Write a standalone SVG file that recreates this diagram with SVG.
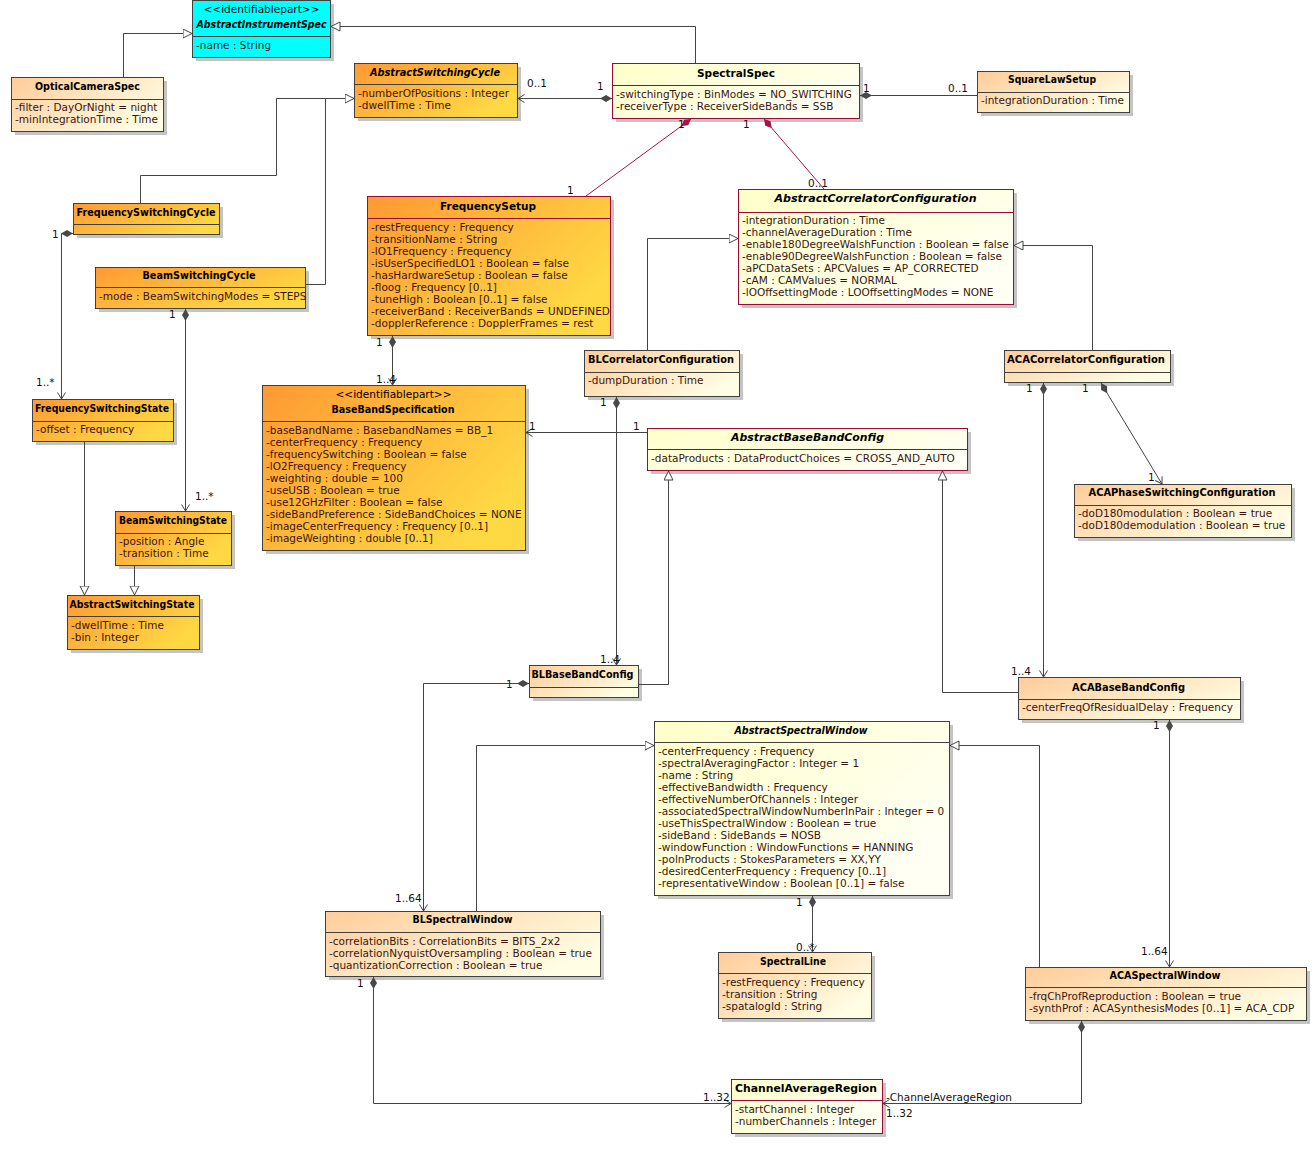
<svg xmlns="http://www.w3.org/2000/svg" width="1316" height="1153" viewBox="0 0 1316 1153">
<defs>
<linearGradient id="gD" x1="0" y1="0" x2="1" y2="0.6"><stop offset="0" stop-color="#FF9933"/><stop offset="1" stop-color="#FFD944"/></linearGradient>
<linearGradient id="gL" x1="0" y1="0" x2="1" y2="0.6"><stop offset="0" stop-color="#FFCC99"/><stop offset="1" stop-color="#FFFDE4"/></linearGradient>
<linearGradient id="gY" x1="0" y1="0" x2="1" y2="0.6"><stop offset="0" stop-color="#FFFFC8"/><stop offset="1" stop-color="#FFFFF4"/></linearGradient>
<marker id="gen" markerUnits="userSpaceOnUse" markerWidth="11" markerHeight="11" refX="9.5" refY="5" orient="auto"><path d="M0.5,0.5 L9.5,5 L0.5,9.5 Z" fill="#fff" stroke="#444" stroke-width="1"/></marker>
<marker id="open" markerUnits="userSpaceOnUse" markerWidth="9" markerHeight="10" refX="7" refY="4.5" orient="auto"><path d="M0.5,0.5 L7,4.5 L0.5,8.5" fill="none" stroke="#444" stroke-width="1"/></marker>
<marker id="dia" markerUnits="userSpaceOnUse" markerWidth="13" markerHeight="8" refX="0" refY="3.5" orient="auto"><path d="M0,3.5 L6,0 L12,3.5 L6,7 Z" fill="#484848"/></marker>
<marker id="diaR" markerUnits="userSpaceOnUse" markerWidth="13" markerHeight="8" refX="0" refY="3.5" orient="auto"><path d="M0,3.5 L6,0 L12,3.5 L6,7 Z" fill="#A31545"/></marker>
<style>
text{font-family:"DejaVu Sans","Liberation Sans",sans-serif;font-size:10.5px}
.sh{fill:#C4C4C4}
.r{stroke:#404040;stroke-width:1}
.rr{stroke:#9C0A36;stroke-width:1}
.dv{stroke:#404040;stroke-width:1}
.dvr{stroke:#9C0A36;stroke-width:1}
.n{font-weight:bold;text-anchor:middle;fill:#000}
.ni{font-weight:bold;font-style:italic;text-anchor:middle;fill:#000}
.st{text-anchor:middle;fill:#000}
.a{fill:#3A1610}
.l{fill:#111}
.c{fill:none;stroke:#444;stroke-width:1}
.cr{fill:none;stroke:#A31545;stroke-width:1}
</style>
</defs>
<rect width="1316" height="1153" fill="#fff"/>

<g id="AbstractInstrumentSpec">
<rect class="sh" x="196" y="4" width="138" height="57"/>
<rect class="r" x="192.5" y="0.5" width="138" height="57" fill="#00FFFF"/>
<line class="dv" x1="192.5" y1="36.5" x2="330.5" y2="36.5"/>
<text class="st" x="261.5" y="13" textLength="116" lengthAdjust="spacingAndGlyphs">&lt;&lt;identifiablepart&gt;&gt;</text>
<text class="ni" x="261.5" y="28" textLength="130" lengthAdjust="spacingAndGlyphs">AbstractInstrumentSpec</text>
<text class="a" x="196" y="49">-name : String</text>
</g>

<g id="OpticalCameraSpec">
<rect class="sh" x="15" y="81" width="152" height="54"/>
<rect class="r" x="11.5" y="77.5" width="152" height="54" fill="url(#gL)"/>
<line class="dv" x1="11.5" y1="99.5" x2="163.5" y2="99.5"/>
<text class="n" x="87.5" y="90" textLength="105" lengthAdjust="spacingAndGlyphs">OpticalCameraSpec</text>
<text class="a" x="15" y="111">-filter : DayOrNight = night</text>
<text class="a" x="15" y="123">-minIntegrationTime : Time</text>
</g>

<g id="AbstractSwitchingCycle">
<rect class="sh" x="358" y="67" width="163" height="54"/>
<rect class="r" x="354.5" y="63.5" width="163" height="54" fill="url(#gD)"/>
<line class="dv" x1="354.5" y1="84.5" x2="517.5" y2="84.5"/>
<text class="ni" x="435" y="76" textLength="130" lengthAdjust="spacingAndGlyphs">AbstractSwitchingCycle</text>
<text class="a" x="358" y="97">-numberOfPositions : Integer</text>
<text class="a" x="358" y="109">-dwellTime : Time</text>
</g>

<g id="SpectralSpec">
<rect class="sh" x="616" y="67" width="247" height="55"/>
<rect class="rr" x="612.5" y="63.5" width="247" height="55" fill="url(#gY)"/>
<line class="dvr" x1="612.5" y1="85.5" x2="859.5" y2="85.5"/>
<text class="n" x="736" y="77" textLength="78" lengthAdjust="spacingAndGlyphs">SpectralSpec</text>
<text class="a" x="616" y="98">-switchingType : BinModes = NO_SWITCHING</text>
<text class="a" x="616" y="110">-receiverType : ReceiverSideBands = SSB</text>
</g>

<g id="SquareLawSetup">
<rect class="sh" x="981" y="75" width="152" height="41"/>
<rect class="r" x="977.5" y="71.5" width="152" height="41" fill="url(#gL)"/>
<line class="dv" x1="977.5" y1="92.5" x2="1129.5" y2="92.5"/>
<text class="n" x="1052" y="83" textLength="88" lengthAdjust="spacingAndGlyphs">SquareLawSetup</text>
<text class="a" x="981" y="104">-integrationDuration : Time</text>
</g>

<g id="FrequencySetup">
<rect class="sh" x="371" y="200" width="243" height="139"/>
<rect class="rr" x="367.5" y="196.5" width="243" height="139" fill="url(#gD)"/>
<line class="dvr" x1="367.5" y1="218.5" x2="610.5" y2="218.5"/>
<text class="n" x="488" y="210" textLength="96" lengthAdjust="spacingAndGlyphs">FrequencySetup</text>
<text class="a" x="371" y="231">-restFrequency : Frequency</text>
<text class="a" x="371" y="243">-transitionName : String</text>
<text class="a" x="371" y="255">-lO1Frequency : Frequency</text>
<text class="a" x="371" y="267">-isUserSpecifiedLO1 : Boolean = false</text>
<text class="a" x="371" y="279">-hasHardwareSetup : Boolean = false</text>
<text class="a" x="371" y="291">-floog : Frequency [0..1]</text>
<text class="a" x="371" y="303">-tuneHigh : Boolean [0..1] = false</text>
<text class="a" x="371" y="315">-receiverBand : ReceiverBands = UNDEFINED</text>
<text class="a" x="371" y="327">-dopplerReference : DopplerFrames = rest</text>
</g>

<g id="AbstractCorrelatorConfiguration">
<rect class="sh" x="742" y="193" width="275" height="115"/>
<rect class="rr" x="738.5" y="189.5" width="275" height="115" fill="url(#gY)"/>
<line class="dvr" x1="738.5" y1="212.5" x2="1013.5" y2="212.5"/>
<text class="ni" x="875.5" y="202" textLength="202" lengthAdjust="spacingAndGlyphs">AbstractCorrelatorConfiguration</text>
<text class="a" x="742" y="224">-integrationDuration : Time</text>
<text class="a" x="742" y="236">-channelAverageDuration : Time</text>
<text class="a" x="742" y="248">-enable180DegreeWalshFunction : Boolean = false</text>
<text class="a" x="742" y="260">-enable90DegreeWalshFunction : Boolean = false</text>
<text class="a" x="742" y="272">-aPCDataSets : APCValues = AP_CORRECTED</text>
<text class="a" x="742" y="284">-cAM : CAMValues = NORMAL</text>
<text class="a" x="742" y="296">-lOOffsettingMode : LOOffsettingModes = NONE</text>
</g>

<g id="FrequencySwitchingCycle">
<rect class="sh" x="77" y="207" width="146" height="31"/>
<rect class="r" x="73.5" y="203.5" width="146" height="31" fill="url(#gD)"/>
<line class="dv" x1="73.5" y1="224.5" x2="219.5" y2="224.5"/>
<text class="n" x="146" y="216" textLength="139" lengthAdjust="spacingAndGlyphs">FrequencySwitchingCycle</text>
</g>

<g id="BeamSwitchingCycle">
<rect class="sh" x="99" y="271" width="210" height="41"/>
<rect class="r" x="95.5" y="267.5" width="210" height="41" fill="url(#gD)"/>
<line class="dv" x1="95.5" y1="287.5" x2="305.5" y2="287.5"/>
<text class="n" x="199" y="279" textLength="113" lengthAdjust="spacingAndGlyphs">BeamSwitchingCycle</text>
<text class="a" x="99" y="300">-mode : BeamSwitchingModes = STEPS</text>
</g>

<g id="FrequencySwitchingState">
<rect class="sh" x="36" y="403" width="141" height="42"/>
<rect class="r" x="32.5" y="399.5" width="141" height="42" fill="url(#gD)"/>
<line class="dv" x1="32.5" y1="421.5" x2="173.5" y2="421.5"/>
<text class="n" x="102" y="412" textLength="134" lengthAdjust="spacingAndGlyphs">FrequencySwitchingState</text>
<text class="a" x="36" y="433">-offset : Frequency</text>
</g>

<g id="BeamSwitchingState">
<rect class="sh" x="119" y="515" width="116" height="54"/>
<rect class="r" x="115.5" y="511.5" width="116" height="54" fill="url(#gD)"/>
<line class="dv" x1="115.5" y1="533.5" x2="231.5" y2="533.5"/>
<text class="n" x="173" y="524" textLength="108" lengthAdjust="spacingAndGlyphs">BeamSwitchingState</text>
<text class="a" x="119" y="545">-position : Angle</text>
<text class="a" x="119" y="557">-transition : Time</text>
</g>

<g id="AbstractSwitchingState">
<rect class="sh" x="71" y="599" width="132" height="54"/>
<rect class="r" x="67.5" y="595.5" width="132" height="54" fill="url(#gD)"/>
<line class="dv" x1="67.5" y1="616.5" x2="199.5" y2="616.5"/>
<text class="n" x="132" y="608" textLength="125" lengthAdjust="spacingAndGlyphs">AbstractSwitchingState</text>
<text class="a" x="71" y="629">-dwellTime : Time</text>
<text class="a" x="71" y="641">-bin : Integer</text>
</g>

<g id="BaseBandSpecification">
<rect class="sh" x="266" y="389" width="263" height="165"/>
<rect class="r" x="262.5" y="385.5" width="263" height="165" fill="url(#gD)"/>
<line class="dv" x1="262.5" y1="421.5" x2="525.5" y2="421.5"/>
<text class="st" x="393.5" y="398" textLength="116" lengthAdjust="spacingAndGlyphs">&lt;&lt;identifiablepart&gt;&gt;</text>
<text class="n" x="393" y="413" textLength="123" lengthAdjust="spacingAndGlyphs">BaseBandSpecification</text>
<text class="a" x="266" y="434">-baseBandName : BasebandNames = BB_1</text>
<text class="a" x="266" y="446">-centerFrequency : Frequency</text>
<text class="a" x="266" y="458">-frequencySwitching : Boolean = false</text>
<text class="a" x="266" y="470">-lO2Frequency : Frequency</text>
<text class="a" x="266" y="482">-weighting : double = 100</text>
<text class="a" x="266" y="494">-useUSB : Boolean = true</text>
<text class="a" x="266" y="506">-use12GHzFilter : Boolean = false</text>
<text class="a" x="266" y="518">-sideBandPreference : SideBandChoices = NONE</text>
<text class="a" x="266" y="530">-imageCenterFrequency : Frequency [0..1]</text>
<text class="a" x="266" y="542">-imageWeighting : double [0..1]</text>
</g>

<g id="BLCorrelatorConfiguration">
<rect class="sh" x="588" y="354" width="155" height="46"/>
<rect class="r" x="584.5" y="350.5" width="155" height="46" fill="url(#gL)"/>
<line class="dv" x1="584.5" y1="372.5" x2="739.5" y2="372.5"/>
<text class="n" x="661" y="363" textLength="146" lengthAdjust="spacingAndGlyphs">BLCorrelatorConfiguration</text>
<text class="a" x="588" y="384">-dumpDuration : Time</text>
</g>

<g id="AbstractBaseBandConfig">
<rect class="sh" x="651" y="432" width="320" height="42"/>
<rect class="rr" x="647.5" y="428.5" width="320" height="42" fill="url(#gY)"/>
<line class="dvr" x1="647.5" y1="449.5" x2="967.5" y2="449.5"/>
<text class="ni" x="807.5" y="441" textLength="153" lengthAdjust="spacingAndGlyphs">AbstractBaseBandConfig</text>
<text class="a" x="651" y="462">-dataProducts : DataProductChoices = CROSS_AND_AUTO</text>
</g>

<g id="ACACorrelatorConfiguration">
<rect class="sh" x="1008" y="354" width="166" height="32"/>
<rect class="r" x="1004.5" y="350.5" width="166" height="32" fill="url(#gL)"/>
<line class="dv" x1="1004.5" y1="372.5" x2="1170.5" y2="372.5"/>
<text class="n" x="1086" y="363" textLength="158" lengthAdjust="spacingAndGlyphs">ACACorrelatorConfiguration</text>
</g>

<g id="ACAPhaseSwitchingConfiguration">
<rect class="sh" x="1078" y="488" width="217" height="53"/>
<rect class="r" x="1074.5" y="484.5" width="217" height="53" fill="url(#gL)"/>
<line class="dv" x1="1074.5" y1="505.5" x2="1291.5" y2="505.5"/>
<text class="n" x="1182" y="496" textLength="187" lengthAdjust="spacingAndGlyphs">ACAPhaseSwitchingConfiguration</text>
<text class="a" x="1078" y="517">-doD180modulation : Boolean = true</text>
<text class="a" x="1078" y="529">-doD180demodulation : Boolean = true</text>
</g>

<g id="BLBaseBandConfig">
<rect class="sh" x="533" y="669" width="109" height="32"/>
<rect class="r" x="529.5" y="665.5" width="109" height="32" fill="url(#gL)"/>
<line class="dv" x1="529.5" y1="687.5" x2="638.5" y2="687.5"/>
<text class="n" x="582.5" y="678" textLength="102" lengthAdjust="spacingAndGlyphs">BLBaseBandConfig</text>
</g>

<g id="ACABaseBandConfig">
<rect class="sh" x="1022" y="681" width="222" height="42"/>
<rect class="r" x="1018.5" y="677.5" width="222" height="42" fill="url(#gL)"/>
<line class="dv" x1="1018.5" y1="699.5" x2="1240.5" y2="699.5"/>
<text class="n" x="1128.5" y="691" textLength="113" lengthAdjust="spacingAndGlyphs">ACABaseBandConfig</text>
<text class="a" x="1022" y="711">-centerFreqOfResidualDelay : Frequency</text>
</g>

<g id="AbstractSpectralWindow">
<rect class="sh" x="658" y="725" width="295" height="174"/>
<rect class="r" x="654.5" y="721.5" width="295" height="174" fill="url(#gY)"/>
<line class="dv" x1="654.5" y1="742.5" x2="949.5" y2="742.5"/>
<text class="ni" x="801" y="734" textLength="133" lengthAdjust="spacingAndGlyphs">AbstractSpectralWindow</text>
<text class="a" x="658" y="755">-centerFrequency : Frequency</text>
<text class="a" x="658" y="767">-spectralAveragingFactor : Integer = 1</text>
<text class="a" x="658" y="779">-name : String</text>
<text class="a" x="658" y="791">-effectiveBandwidth : Frequency</text>
<text class="a" x="658" y="803">-effectiveNumberOfChannels : Integer</text>
<text class="a" x="658" y="815">-associatedSpectralWindowNumberInPair : Integer = 0</text>
<text class="a" x="658" y="827">-useThisSpectralWindow : Boolean = true</text>
<text class="a" x="658" y="839">-sideBand : SideBands = NOSB</text>
<text class="a" x="658" y="851">-windowFunction : WindowFunctions = HANNING</text>
<text class="a" x="658" y="863">-polnProducts : StokesParameters = XX,YY</text>
<text class="a" x="658" y="875">-desiredCenterFrequency : Frequency [0..1]</text>
<text class="a" x="658" y="887">-representativeWindow : Boolean [0..1] = false</text>
</g>

<g id="BLSpectralWindow">
<rect class="sh" x="329" y="915" width="275" height="65"/>
<rect class="r" x="325.5" y="911.5" width="275" height="65" fill="url(#gL)"/>
<line class="dv" x1="325.5" y1="932.5" x2="600.5" y2="932.5"/>
<text class="n" x="462.5" y="923" textLength="100" lengthAdjust="spacingAndGlyphs">BLSpectralWindow</text>
<text class="a" x="329" y="945">-correlationBits : CorrelationBits = BITS_2x2</text>
<text class="a" x="329" y="957">-correlationNyquistOversampling : Boolean = true</text>
<text class="a" x="329" y="969">-quantizationCorrection : Boolean = true</text>
</g>

<g id="SpectralLine">
<rect class="sh" x="722" y="956" width="153" height="66"/>
<rect class="r" x="718.5" y="952.5" width="153" height="66" fill="url(#gL)"/>
<line class="dv" x1="718.5" y1="973.5" x2="871.5" y2="973.5"/>
<text class="n" x="793" y="965" textLength="66" lengthAdjust="spacingAndGlyphs">SpectralLine</text>
<text class="a" x="722" y="986">-restFrequency : Frequency</text>
<text class="a" x="722" y="998">-transition : String</text>
<text class="a" x="722" y="1010">-spatalogId : String</text>
</g>

<g id="ACASpectralWindow">
<rect class="sh" x="1029" y="971" width="281" height="53"/>
<rect class="r" x="1025.5" y="967.5" width="281" height="53" fill="url(#gL)"/>
<line class="dv" x1="1025.5" y1="987.5" x2="1306.5" y2="987.5"/>
<text class="n" x="1165" y="979" textLength="111" lengthAdjust="spacingAndGlyphs">ACASpectralWindow</text>
<text class="a" x="1029" y="1000">-frqChProfReproduction : Boolean = true</text>
<text class="a" x="1029" y="1012">-synthProf : ACASynthesisModes [0..1] = ACA_CDP</text>
</g>

<g id="ChannelAverageRegion">
<rect class="sh" x="735" y="1083" width="151" height="54"/>
<rect class="rr" x="731.5" y="1079.5" width="151" height="54" fill="url(#gY)"/>
<line class="dvr" x1="731.5" y1="1100.5" x2="882.5" y2="1100.5"/>
<text class="n" x="806" y="1092" style="font-size:11px" textLength="142" lengthAdjust="spacingAndGlyphs">ChannelAverageRegion</text>
<text class="a" x="735" y="1113">-startChannel : Integer</text>
<text class="a" x="735" y="1125">-numberChannels : Integer</text>
</g>

<g id="connectors">
<path class="c" d="M123.5,77 V33.5 H192" marker-end="url(#gen)"/>
<path class="c" d="M695.5,63 V26.5 H331" marker-end="url(#gen)"/>
<path class="c" d="M140.5,203 V175.5 H276.5 V98.5 H354" marker-end="url(#gen)"/>
<path class="c" d="M305,284.5 H325.5 V98.5"/>
<path class="c" d="M612,98.5 H518" marker-start="url(#dia)" marker-end="url(#open)"/>
<path class="c" d="M860,95.5 H977"  marker-start="url(#dia)"/>
<path class="cr" d="M691,119 L586,196" marker-start="url(#diaR)"/>
<path class="cr" d="M764,119 L824,189" marker-start="url(#diaR)"/>
<path class="c" d="M73,233.5 H61.5 V399" marker-start="url(#dia)" marker-end="url(#open)"/>
<path class="c" d="M185.5,309 V511" marker-start="url(#dia)" marker-end="url(#open)"/>
<path class="c" d="M84.5,442 V595" marker-end="url(#gen)"/>
<path class="c" d="M134.5,566 V595" marker-end="url(#gen)"/>
<path class="c" d="M392.5,336 V385" marker-start="url(#dia)" marker-end="url(#open)"/>
<path class="c" d="M647.5,350 V238.5 H738" marker-end="url(#gen)"/>
<path class="c" d="M1092.5,350 V245.5 H1014" marker-end="url(#gen)"/>
<path class="c" d="M647,432.5 H526" marker-end="url(#open)"/>
<path class="c" d="M616.5,397 V665" marker-start="url(#dia)" marker-end="url(#open)"/>
<path class="c" d="M639,684.5 H668.5 V471" marker-end="url(#gen)"/>
<path class="c" d="M1018,692.5 H942.5 V471" marker-end="url(#gen)"/>
<path class="c" d="M1043.5,383 V677" marker-start="url(#dia)" marker-end="url(#open)"/>
<path class="c" d="M1101,383 L1162,484" marker-start="url(#dia)" marker-end="url(#open)"/>
<path class="c" d="M529,683.5 H423.5 V911" marker-start="url(#dia)" marker-end="url(#open)"/>
<path class="c" d="M476.5,911 V745.5 H654" marker-end="url(#gen)"/>
<path class="c" d="M1039.5,967 V745.5 H950" marker-end="url(#gen)"/>
<path class="c" d="M1169.5,720 V967" marker-start="url(#dia)" marker-end="url(#open)"/>
<path class="c" d="M812.5,896 V952" marker-start="url(#dia)" marker-end="url(#open)"/>
<path class="c" d="M373.5,977 V1103.5 H731" marker-start="url(#dia)" marker-end="url(#open)"/>
<path class="c" d="M1081.5,1021 V1103.5 H883" marker-start="url(#dia)" marker-end="url(#open)"/>
</g>

<g id="labels">
<text class="l" x="527" y="87">0..1</text>
<text class="l" x="597" y="90">1</text>
<text class="l" x="863" y="92">1</text>
<text class="l" x="948" y="92">0..1</text>
<text class="l" x="678" y="128">1</text>
<text class="l" x="743" y="128">1</text>
<text class="l" x="567" y="194">1</text>
<text class="l" x="808" y="187">0..1</text>
<text class="l" x="52" y="238">1</text>
<text class="l" x="36" y="386">1..*</text>
<text class="l" x="169" y="318">1</text>
<text class="l" x="195" y="500">1..*</text>
<text class="l" x="376" y="346">1</text>
<text class="l" x="376" y="383">1..4</text>
<text class="l" x="529" y="430">1</text>
<text class="l" x="633" y="430">1</text>
<text class="l" x="600" y="406">1</text>
<text class="l" x="600" y="663">1..4</text>
<text class="l" x="1026" y="392">1</text>
<text class="l" x="1011" y="675">1..4</text>
<text class="l" x="1082" y="392">1</text>
<text class="l" x="1148" y="481">1</text>
<text class="l" x="506" y="688">1</text>
<text class="l" x="395" y="902">1..64</text>
<text class="l" x="1153" y="729">1</text>
<text class="l" x="1141" y="955">1..64</text>
<text class="l" x="796" y="906">1</text>
<text class="l" x="796" y="951">0..*</text>
<text class="l" x="357" y="987">1</text>
<text class="l" x="703" y="1101">1..32</text>
<text class="l" x="886" y="1101">-ChannelAverageRegion</text>
<text class="l" x="886" y="1117">1..32</text>
</g>
</svg>
